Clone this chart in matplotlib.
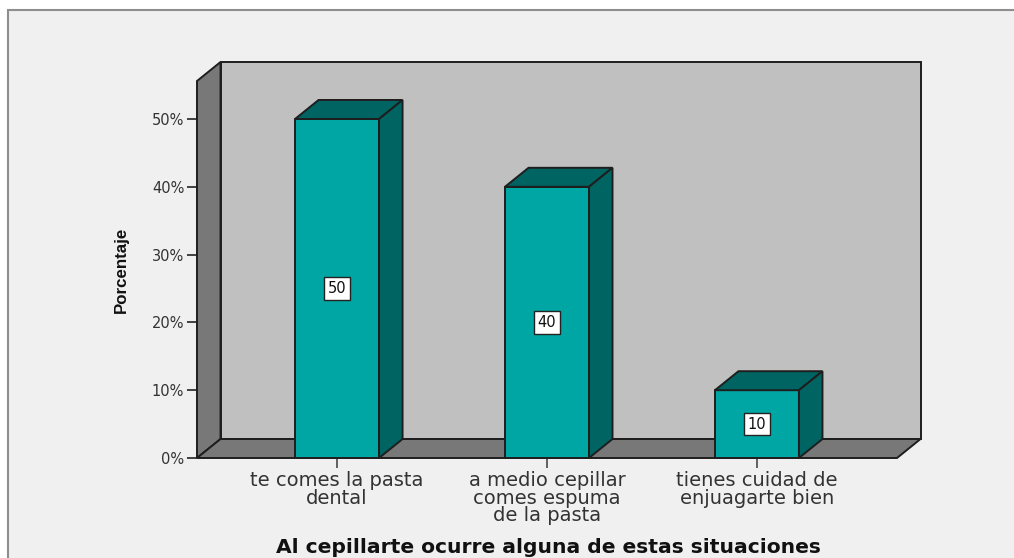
import matplotlib
matplotlib.use('Agg')
import matplotlib.pyplot as plt
from matplotlib.patches import Polygon, Rectangle

# data
cats = ['te comes la pasta\ndental',
        'a medio cepillar\ncomes espuma\nde la pasta',
        'tienes cuidad de\nenjuagarte bien']
pct = [50, 40, 10]
vlab = ['50', '40', '10']
yticks = [0, 10, 20, 30, 40, 50]
xlab = 'Al cepillarte ocurre alguna de estas situaciones'
ylab = 'Porcentaje'

# style
bg = '#f0f0f0'
wall = '#c0c0c0'
side = '#787878'
cfront = '#00a6a3'
cdark = '#006462'
ec = '#1e1e1e'
lw = 1.4

W, H = 1014, 558
fig = plt.figure(figsize=(W/100, H/100), dpi=100, facecolor='white')
fig.patches.append(Rectangle((8/W, -0.1), 1.2, 1-10/H+0.1, transform=fig.transFigure,
                             facecolor=bg, edgecolor='#8e8e8e', lw=1.5, zorder=-10))

ax = fig.add_axes([197/W, (H-458)/H, 700/W, 377/H])
ax.set_facecolor('none')
for s in ax.spines.values():
    s.set_visible(False)

x0, x1 = -0.667, 2.667
y0, y1 = 0, 55.6
ax.set_xlim(x0, x1)
ax.set_ylim(y0, y1)
dx, dy = 0.112, 2.8   # depth offset
bw = 0.4

def poly(pts, fc, z):
    ax.add_patch(Polygon(pts, closed=True, facecolor=fc, edgecolor=ec, lw=lw,
                         clip_on=False, zorder=z, joinstyle='miter'))

# back wall, left wall, floor
poly([(x0+dx, y0+dy), (x1+dx, y0+dy), (x1+dx, y1+dy), (x0+dx, y1+dy)], wall, 1)
poly([(x0, y0), (x0+dx, y0+dy), (x0+dx, y1+dy), (x0, y1)], side, 2)
poly([(x0, y0), (x1, y0), (x1+dx, y0+dy), (x0+dx, y0+dy)], side, 2)

# bars
for i, v in enumerate(pct):
    l, r = i - bw/2, i + bw/2
    poly([(l, 0), (r, 0), (r, v), (l, v)], cfront, 3)
    poly([(l, v), (r, v), (r+dx, v+dy), (l+dx, v+dy)], cdark, 3)
    poly([(r, 0), (r+dx, dy), (r+dx, v+dy), (r, v)], cdark, 3)
    ax.text(i, v/2, vlab[i], ha='center', va='center', fontsize=10.5, color='#111111',
            zorder=5, bbox=dict(boxstyle='square,pad=0.25', facecolor='white',
                                edgecolor='#222222', lw=1.0))

ax.set_yticks(yticks)
ax.set_yticklabels(['%d%%' % t for t in yticks], fontsize=10.5, color='#333333')
ax.tick_params(axis='y', length=7.2, width=1.3, color='#333333', pad=2)
ax.set_xticks(range(len(cats)))
ax.set_xticklabels(cats, fontsize=14, color='#333333', linespacing=0.92)
ax.tick_params(axis='x', length=7.2, width=1.3, color='#555555', pad=2)

fig.text(548/W, 5/H, xlab, ha='center', va='baseline', fontsize=14.6,
         fontweight='bold', color='#111111')
fig.text(121/W, (H-270)/H, ylab, ha='center', va='center', rotation=90,
         fontsize=12.2, fontweight='bold', family='Liberation Sans', color='#111111')

fig.savefig('out.png', dpi=100, facecolor='white')
